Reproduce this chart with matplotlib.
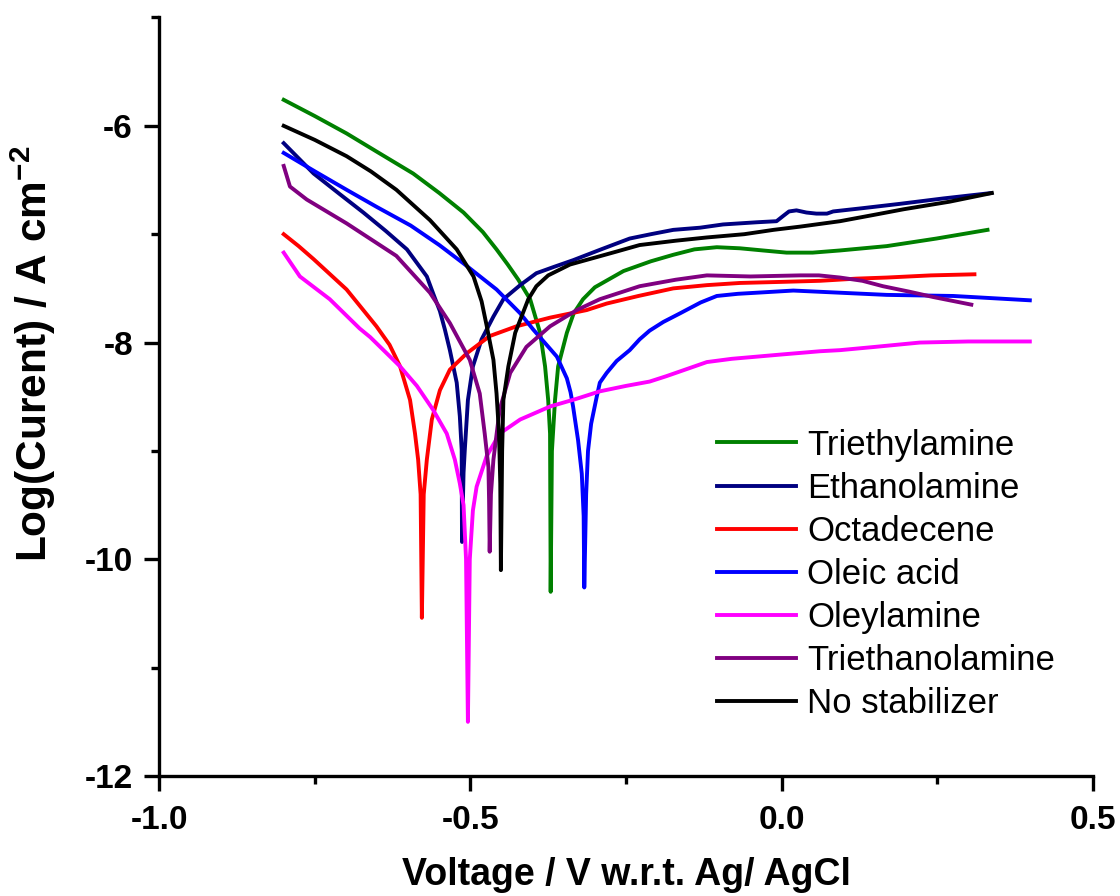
import matplotlib
matplotlib.use("Agg")
import matplotlib.pyplot as plt
from matplotlib.ticker import MultipleLocator, FormatStrFormatter

plt.rcParams['font.family'] = ['Liberation Sans', 'DejaVu Sans']
plt.rcParams['axes.unicode_minus'] = False
plt.rcParams['mathtext.fontset'] = 'custom'
plt.rcParams['mathtext.rm'] = 'Liberation Sans'
plt.rcParams['mathtext.bf'] = 'Liberation Sans:bold'

# ---- data (V vs Ag/AgCl, log current) ----
tea_v = [-0.80, -0.75, -0.699, -0.65, -0.592, -0.55, -0.511, -0.48, -0.458, -0.44, -0.423, -0.404,
         -0.388, -0.380, -0.375, -0.372, -0.371, -0.369, -0.364, -0.359, -0.345, -0.334, -0.319,
         -0.30, -0.254, -0.21, -0.174, -0.14, -0.104, -0.067, -0.03, 0.008, 0.05, 0.094, 0.169,
         0.249, 0.331]
tea_i = [-5.76, -5.91, -6.07, -6.24, -6.44, -6.62, -6.80, -6.98, -7.14, -7.28, -7.42, -7.60,
         -7.91, -8.22, -8.53, -8.84, -10.30, -9.00, -8.53, -8.22, -7.91, -7.73, -7.60,
         -7.49, -7.34, -7.25, -7.19, -7.14, -7.12, -7.13, -7.15, -7.17, -7.17, -7.15, -7.11,
         -7.04, -6.96]

eta_v = [-0.80, -0.776, -0.752, -0.71, -0.672, -0.636, -0.602, -0.570, -0.559, -0.549, -0.541,
         -0.533, -0.522, -0.517, -0.514, -0.5135, -0.511, -0.509, -0.504, -0.496, -0.482, -0.463,
         -0.447, -0.420, -0.394, -0.365, -0.335, -0.290, -0.244, -0.210, -0.174, -0.131, -0.094,
         -0.040, -0.008, 0.003, 0.012, 0.024, 0.040, 0.056, 0.073, 0.083, 0.13, 0.19, 0.26, 0.337]
eta_i = [-6.16, -6.30, -6.44, -6.63, -6.80, -6.97, -7.14, -7.39, -7.56, -7.71, -7.88,
         -8.07, -8.37, -8.68, -8.99, -9.84, -9.20, -8.99, -8.53, -8.22, -7.97, -7.76,
         -7.60, -7.47, -7.36, -7.30, -7.24, -7.14, -7.04, -7.00, -6.96, -6.94, -6.91,
         -6.89, -6.88, -6.83, -6.79, -6.78, -6.80, -6.81, -6.81, -6.79, -6.76, -6.72, -6.67, -6.62]

oct_v = [-0.80, -0.776, -0.752, -0.699, -0.651, -0.630, -0.613, -0.597, -0.589, -0.584, -0.580,
         -0.578, -0.575, -0.570, -0.562, -0.549, -0.533, -0.506, -0.469, -0.426, -0.372, -0.313,
         -0.281, -0.230, -0.174, -0.120, -0.067, 0.0, 0.062, 0.12, 0.169, 0.24, 0.310]
oct_i = [-7.00, -7.11, -7.23, -7.51, -7.85, -8.02, -8.22, -8.53, -8.84, -9.08, -9.40,
         -10.54, -9.40, -9.08, -8.71, -8.44, -8.25, -8.10, -7.94, -7.85, -7.77, -7.70,
         -7.64, -7.57, -7.50, -7.47, -7.45, -7.44, -7.43, -7.41, -7.40, -7.38, -7.37]

ole_v = [-0.80, -0.75, -0.699, -0.65, -0.596, -0.55, -0.511, -0.458, -0.420, -0.399, -0.361,
         -0.345, -0.339, -0.335, -0.327, -0.321, -0.318, -0.317, -0.314, -0.311, -0.306, -0.297,
         -0.292, -0.281, -0.265, -0.244, -0.228, -0.212, -0.190, -0.163, -0.130, -0.104, -0.070,
         -0.040, 0.019, 0.094, 0.169, 0.276, 0.399]
ole_i = [-6.25, -6.42, -6.59, -6.75, -6.92, -7.10, -7.27, -7.51, -7.73, -7.88, -8.13,
         -8.33, -8.46, -8.59, -8.90, -9.21, -9.60, -10.26, -9.40, -9.00, -8.75, -8.50,
         -8.37, -8.28, -8.17, -8.07, -7.97, -7.89, -7.81, -7.73, -7.63, -7.57, -7.55,
         -7.54, -7.52, -7.54, -7.56, -7.57, -7.61]

oam_v = [-0.80, -0.774, -0.726, -0.678, -0.661, -0.613, -0.586, -0.560, -0.538, -0.525, -0.517,
         -0.511, -0.507, -0.504, -0.501, -0.496, -0.490, -0.474, -0.453, -0.420, -0.372, -0.330,
         -0.292, -0.250, -0.212, -0.185, -0.150, -0.120, -0.080, -0.040, 0.0, 0.062, 0.094, 0.150,
         0.222, 0.30, 0.399]
oam_i = [-7.17, -7.39, -7.60, -7.87, -7.95, -8.22, -8.40, -8.62, -8.84, -9.08, -9.30,
         -9.50, -10.00, -11.50, -10.00, -9.55, -9.33, -9.05, -8.84, -8.71, -8.59, -8.52,
         -8.45, -8.40, -8.36, -8.31, -8.24, -8.18, -8.15, -8.13, -8.11, -8.08, -8.07, -8.04,
         -8.00, -7.99, -7.99]

tean_v = [-0.80, -0.790, -0.763, -0.699, -0.619, -0.565, -0.533, -0.501, -0.485, -0.477, -0.471,
          -0.470, -0.469, -0.467, -0.463, -0.453, -0.436, -0.410, -0.372, -0.329, -0.292, -0.228,
          -0.170, -0.120, -0.05, 0.030, 0.06, 0.094, 0.130, 0.163, 0.205, 0.244, 0.305]
tean_i = [-6.37, -6.56, -6.68, -6.90, -7.20, -7.54, -7.82, -8.16, -8.47, -8.84, -9.15,
          -9.45, -9.93, -9.40, -9.08, -8.62, -8.28, -8.04, -7.85, -7.70, -7.60, -7.48,
          -7.42, -7.38, -7.39, -7.38, -7.38, -7.40, -7.43, -7.48, -7.53, -7.58, -7.65]

nos_v = [-0.80, -0.75, -0.699, -0.66, -0.619, -0.565, -0.522, -0.495, -0.482, -0.474, -0.463,
         -0.458, -0.454, -0.452, -0.451, -0.449, -0.447, -0.439, -0.428, -0.407, -0.394, -0.375,
         -0.340, -0.265, -0.228, -0.170, -0.120, -0.060, -0.013, 0.030, 0.094, 0.150, 0.196,
         0.270, 0.338]
nos_i = [-6.00, -6.13, -6.28, -6.42, -6.59, -6.87, -7.14, -7.39, -7.62, -7.84, -8.16,
         -8.47, -8.84, -9.30, -10.10, -9.00, -8.53, -8.22, -7.91, -7.60, -7.48, -7.38,
         -7.28, -7.16, -7.10, -7.06, -7.03, -7.00, -6.96, -6.93, -6.88, -6.82, -6.77,
         -6.70, -6.62]

labels = ['Triethylamine', 'Ethanolamine', 'Octadecene', 'Oleic acid',
          'Oleylamine', 'Triethanolamine', 'No stabilizer']
colors = ['#008000', '#000080', '#FF0000', '#0000FF', '#FF00FF', '#800080', '#000000']
series = [(tea_v, tea_i), (eta_v, eta_i), (oct_v, oct_i), (ole_v, ole_i),
          (oam_v, oam_i), (tean_v, tean_i), (nos_v, nos_i)]

fig = plt.figure(figsize=(11.2, 8.96), dpi=100)
ax = fig.add_axes([0.1422, 0.1339, 0.8334, 0.8466])

for (v, i), lab, c in zip(series, labels, colors):
    ax.plot(v, i, color=c, lw=2.8, label=lab, solid_joinstyle='round')

ax.set_xlim(-1.0, 0.5)
ax.set_ylim(-12, -5)
ax.spines['top'].set_visible(False)
ax.spines['right'].set_visible(False)
for s in ('left', 'bottom'):
    ax.spines[s].set_linewidth(2.4)

ax.xaxis.set_major_locator(MultipleLocator(0.5))
ax.xaxis.set_minor_locator(MultipleLocator(0.25))
ax.yaxis.set_major_locator(MultipleLocator(2))
ax.yaxis.set_minor_locator(MultipleLocator(1))
ax.xaxis.set_major_formatter(FormatStrFormatter('%.1f'))
ax.yaxis.set_major_formatter(FormatStrFormatter('%d'))
ax.tick_params(which='major', direction='out', length=11, width=2.4, labelsize=24)
ax.tick_params(which='minor', direction='out', length=5.5, width=2.4)
ax.tick_params(axis='x', which='major', pad=10)
ax.tick_params(axis='y', which='major', pad=8)
for t in ax.get_xticklabels() + ax.get_yticklabels():
    t.set_fontweight('bold')

ax.set_xlabel('Voltage / V w.r.t. Ag/ AgCl', fontsize=27, fontweight='bold', labelpad=15)
ax.set_ylabel(r'Log(Curent) / A cm$^{\mathbf{-2}}$', fontsize=30.5, fontweight='bold')
ax.yaxis.set_label_coords(-0.108, 0.556)

leg = ax.legend(loc='upper left', bbox_to_anchor=(0.597, 0.458), frameon=False,
                fontsize=25, handlelength=2.3, handletextpad=0.32, labelspacing=0.29,
                borderpad=0, borderaxespad=0)
for line in leg.get_lines():
    line.set_linewidth(2.8)

fig.savefig('out.png', dpi=100)
